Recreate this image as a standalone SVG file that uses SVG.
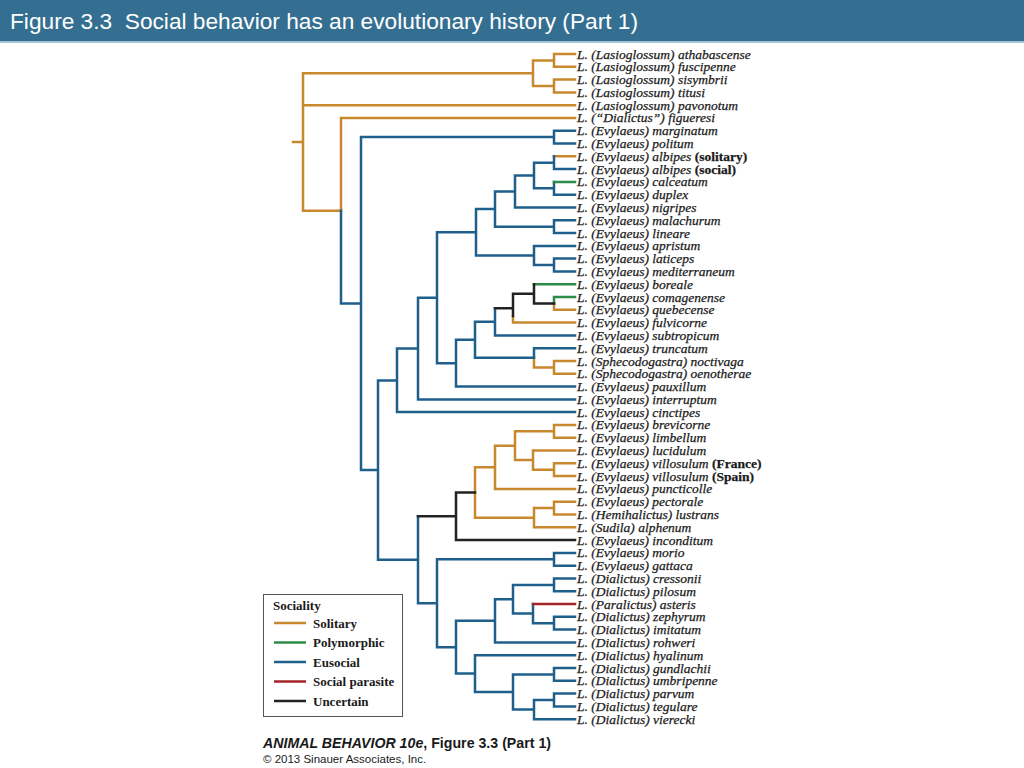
<svg xmlns="http://www.w3.org/2000/svg" width="1024" height="768" viewBox="0 0 1024 768">
<style>
.o{stroke:#C8882E}.g{stroke:#2E8C48}.b{stroke:#1F5F8C}.r{stroke:#A3252A}.k{stroke:#222}
#connectors path{fill:none;stroke-width:2.5;stroke-linecap:square;stroke-linejoin:miter}
.t{font-family:"Liberation Serif","Times New Roman",serif;font-style:italic;font-size:13.5px;fill:#1a1a1a;stroke:#1a1a1a;stroke-width:0.25}
.t tspan.u{font-style:normal;font-weight:bold}
.lg{font-family:"Liberation Serif","Times New Roman",serif;font-weight:bold;font-size:13px;fill:#1a1a1a}
.cap{font-family:"Liberation Sans",Arial,sans-serif;fill:#1a1a1a}
</style>
<rect x="0" y="0" width="1024" height="41" fill="#346F91"/>
<rect x="0" y="41" width="1024" height="2" fill="#A9C3D3"/>
<text x="10" y="29" xml:space="preserve" font-family="'Liberation Sans',Arial,sans-serif" font-size="22.7" fill="#fff">Figure 3.3  Social behavior has an evolutionary history (Part 1)</text>

<g id="connectors">
<path class="o" d="M293,142H303 M303,142V73.2H533 M303,142V105.2H575 M303,142V210.8H341 M533,73.2V60.4H554 M533,73.2V86H554 M554,60.4V54H575 M554,60.4V66.8H575 M554,86V79.6H575 M554,86V92.4H575 M341,210.8V117.9H575 M554,156.3H575 M513,316V322.6H575 M554,303.4V309.8H575 M534,357.8V367.4H554 M554,367.4V361H575 M554,367.4V373.8H575 M475,492.5V467.3H495 M475,492.5V517.7H534 M495,467.3V445.7H515 M495,467.3V488.9H575 M515,445.7V431.3H554 M515,445.7V460.1H533 M554,431.3V424.9H575 M554,431.3V437.7H575 M533,460.1V450.5H575 M533,460.1V469.7H554 M554,469.7V463.3H575 M554,469.7V476.1H575 M534,517.7V508.1H554 M534,517.7V527.3H575 M554,508.1V501.7H575 M554,508.1V514.5H575"/>
<path class="b" d="M341,210.8V303.6H361 M361,303.6V137.1H554 M554,137.1V130.7H575 M554,137.1V143.5H575 M361,303.6V470.1H378 M378,470.1V380.4H397 M378,470.1V559.8H418 M397,380.4V348.6H418 M397,380.4V412.1H575 M418,348.6V297.8H437 M418,348.6V399.4H575 M437,297.8V232.3H476 M437,297.8V363.2H456 M476,232.3V209.1H495 M476,232.3V255.5H534 M495,209.1V191.5H515 M495,209.1V226.7H554 M554,226.7V220.3H575 M554,226.7V233.1H575 M515,191.5V175.5H534 M515,191.5V207.5H575 M534,175.5V162.7H554 M534,175.5V188.3H554 M554,162.7V156.3 M554,162.7V169.1H575 M554,188.3V181.9 M554,188.3V194.7H575 M534,255.5V245.9H575 M534,255.5V265H554 M554,265V258.6H575 M554,265V271.4H575 M456,363.2V339.8H475 M456,363.2V386.6H575 M475,339.8V321.8H495 M475,339.8V357.8H534 M495,321.8V308.2 M495,321.8V335.4H575 M534,357.8V348.2H575 M418,559.8V516.3 M418,559.8V603.3H437 M437,603.3V559.3H554 M554,559.3V552.9H575 M554,559.3V565.7H575 M437,603.3V647.2H456 M456,647.2V620.8H495 M456,647.2V673.6H475 M495,620.8V599.3H513 M495,620.8V642.4H575 M513,599.3V584.9H554 M554,584.9V578.5H575 M554,584.9V591.2H575 M513,599.3V613.6H533 M533,613.6V604 M533,613.6V623.2H554 M554,623.2V616.8H575 M554,623.2V629.6H575 M475,673.6V655.2H575 M475,673.6V692H513 M513,692V674.4H554 M554,674.4V668H575 M554,674.4V680.8H575 M513,692V709.6H534 M534,709.6V700H554 M554,700V693.6H575 M554,700V706.4H575 M534,709.6V719.2H575"/>
<path class="g" d="M554,181.9H575 M534,284.2H575 M554,303.4V297H575"/>
<path class="r" d="M533,604H575"/>
<path class="k" d="M495,308.2H513 M513,308.2V293.8H534 M513,308.2V316 M534,293.8V284.2 M534,293.8V303.4H554 M418,516.3H456 M456,516.3V492.5H475 M456,516.3V540.1H575"/>
</g>

<g id="taxa" class="t">
<g id="n1"><text x="577" y="58.5">L. (Lasioglossum) athabascense</text></g>
<g id="n2"><text x="577" y="71.3">L. (Lasioglossum) fuscipenne</text></g>
<g id="n3"><text x="577" y="84.1">L. (Lasioglossum) sisymbrii</text></g>
<g id="n4"><text x="577" y="96.9">L. (Lasioglossum) titusi</text></g>
<g id="n5"><text x="577" y="109.7">L. (Lasioglossum) pavonotum</text></g>
<g id="n6"><text x="577" y="122.4">L. (“Dialictus”) figueresi</text></g>
<g id="n7"><text x="577" y="135.2">L. (Evylaeus) marginatum</text></g>
<g id="n8"><text x="577" y="148.0">L. (Evylaeus) politum</text></g>
<g id="n9"><text x="577" y="160.8">L. (Evylaeus) albipes <tspan class="u">(solitary)</tspan></text></g>
<g id="n10"><text x="577" y="173.6">L. (Evylaeus) albipes <tspan class="u">(social)</tspan></text></g>
<g id="n11"><text x="577" y="186.4">L. (Evylaeus) calceatum</text></g>
<g id="n12"><text x="577" y="199.2">L. (Evylaeus) duplex</text></g>
<g id="n13"><text x="577" y="212.0">L. (Evylaeus) nigripes</text></g>
<g id="n14"><text x="577" y="224.8">L. (Evylaeus) malachurum</text></g>
<g id="n15"><text x="577" y="237.6">L. (Evylaeus) lineare</text></g>
<g id="n16"><text x="577" y="250.4">L. (Evylaeus) apristum</text></g>
<g id="n17"><text x="577" y="263.1">L. (Evylaeus) laticeps</text></g>
<g id="n18"><text x="577" y="275.9">L. (Evylaeus) mediterraneum</text></g>
<g id="n19"><text x="577" y="288.7">L. (Evylaeus) boreale</text></g>
<g id="n20"><text x="577" y="301.5">L. (Evylaeus) comagenense</text></g>
<g id="n21"><text x="577" y="314.3">L. (Evylaeus) quebecense</text></g>
<g id="n22"><text x="577" y="327.1">L. (Evylaeus) fulvicorne</text></g>
<g id="n23"><text x="577" y="339.9">L. (Evylaeus) subtropicum</text></g>
<g id="n24"><text x="577" y="352.7">L. (Evylaeus) truncatum</text></g>
<g id="n25"><text x="577" y="365.5">L. (Sphecodogastra) noctivaga</text></g>
<g id="n26"><text x="577" y="378.3">L. (Sphecodogastra) oenotherae</text></g>
<g id="n27"><text x="577" y="391.1">L. (Evylaeus) pauxillum</text></g>
<g id="n28"><text x="577" y="403.9">L. (Evylaeus) interruptum</text></g>
<g id="n29"><text x="577" y="416.6">L. (Evylaeus) cinctipes</text></g>
<g id="n30"><text x="577" y="429.4">L. (Evylaeus) brevicorne</text></g>
<g id="n31"><text x="577" y="442.2">L. (Evylaeus) limbellum</text></g>
<g id="n32"><text x="577" y="455.0">L. (Evylaeus) lucidulum</text></g>
<g id="n33"><text x="577" y="467.8">L. (Evylaeus) villosulum <tspan class="u">(France)</tspan></text></g>
<g id="n34"><text x="577" y="480.6">L. (Evylaeus) villosulum <tspan class="u">(Spain)</tspan></text></g>
<g id="n35"><text x="577" y="493.4">L. (Evylaeus) puncticolle</text></g>
<g id="n36"><text x="577" y="506.2">L. (Evylaeus) pectorale</text></g>
<g id="n37"><text x="577" y="519.0">L. (Hemihalictus) lustrans</text></g>
<g id="n38"><text x="577" y="531.8">L. (Sudila) alphenum</text></g>
<g id="n39"><text x="577" y="544.6">L. (Evylaeus) inconditum</text></g>
<g id="n40"><text x="577" y="557.4">L. (Evylaeus) morio</text></g>
<g id="n41"><text x="577" y="570.2">L. (Evylaeus) gattaca</text></g>
<g id="n42"><text x="577" y="583.0">L. (Dialictus) cressonii</text></g>
<g id="n43"><text x="577" y="595.7">L. (Dialictus) pilosum</text></g>
<g id="n44"><text x="577" y="608.5">L. (Paralictus) asteris</text></g>
<g id="n45"><text x="577" y="621.3">L. (Dialictus) zephyrum</text></g>
<g id="n46"><text x="577" y="634.1">L. (Dialictus) imitatum</text></g>
<g id="n47"><text x="577" y="646.9">L. (Dialictus) rohweri</text></g>
<g id="n48"><text x="577" y="659.7">L. (Dialictus) hyalinum</text></g>
<g id="n49"><text x="577" y="672.5">L. (Dialictus) gundlachii</text></g>
<g id="n50"><text x="577" y="685.3">L. (Dialictus) umbripenne</text></g>
<g id="n51"><text x="577" y="698.1">L. (Dialictus) parvum</text></g>
<g id="n52"><text x="577" y="710.9">L. (Dialictus) tegulare</text></g>
<g id="n53"><text x="577" y="723.7">L. (Dialictus) vierecki</text></g>
</g>

<g id="legend">
<rect x="263.5" y="594.5" width="139" height="122" fill="#fff" stroke="#555" stroke-width="1"/>
<text class="lg" x="273" y="610">Sociality</text>
<g stroke-width="2.5" fill="none">
<path class="o" d="M274,623H306"/>
<path class="g" d="M274,642.5H306"/>
<path class="b" d="M274,662H306"/>
<path class="r" d="M274,681.5H306"/>
<path class="k" d="M274,701H306"/>
</g>
<text class="lg" x="313" y="627.5">Solitary</text>
<text class="lg" x="313" y="647">Polymorphic</text>
<text class="lg" x="313" y="666.5">Eusocial</text>
<text class="lg" x="313" y="686">Social parasite</text>
<text class="lg" x="313" y="705.5">Uncertain</text>
</g>

<g id="caption">
<text class="cap" x="263" y="748" font-size="14.2" font-weight="bold"><tspan font-style="italic">ANIMAL BEHAVIOR 10e</tspan>, Figure 3.3 (Part 1)</text>
<text class="cap" x="263" y="763" font-size="11.5">© 2013 Sinauer Associates, Inc.</text>
</g>
</svg>
